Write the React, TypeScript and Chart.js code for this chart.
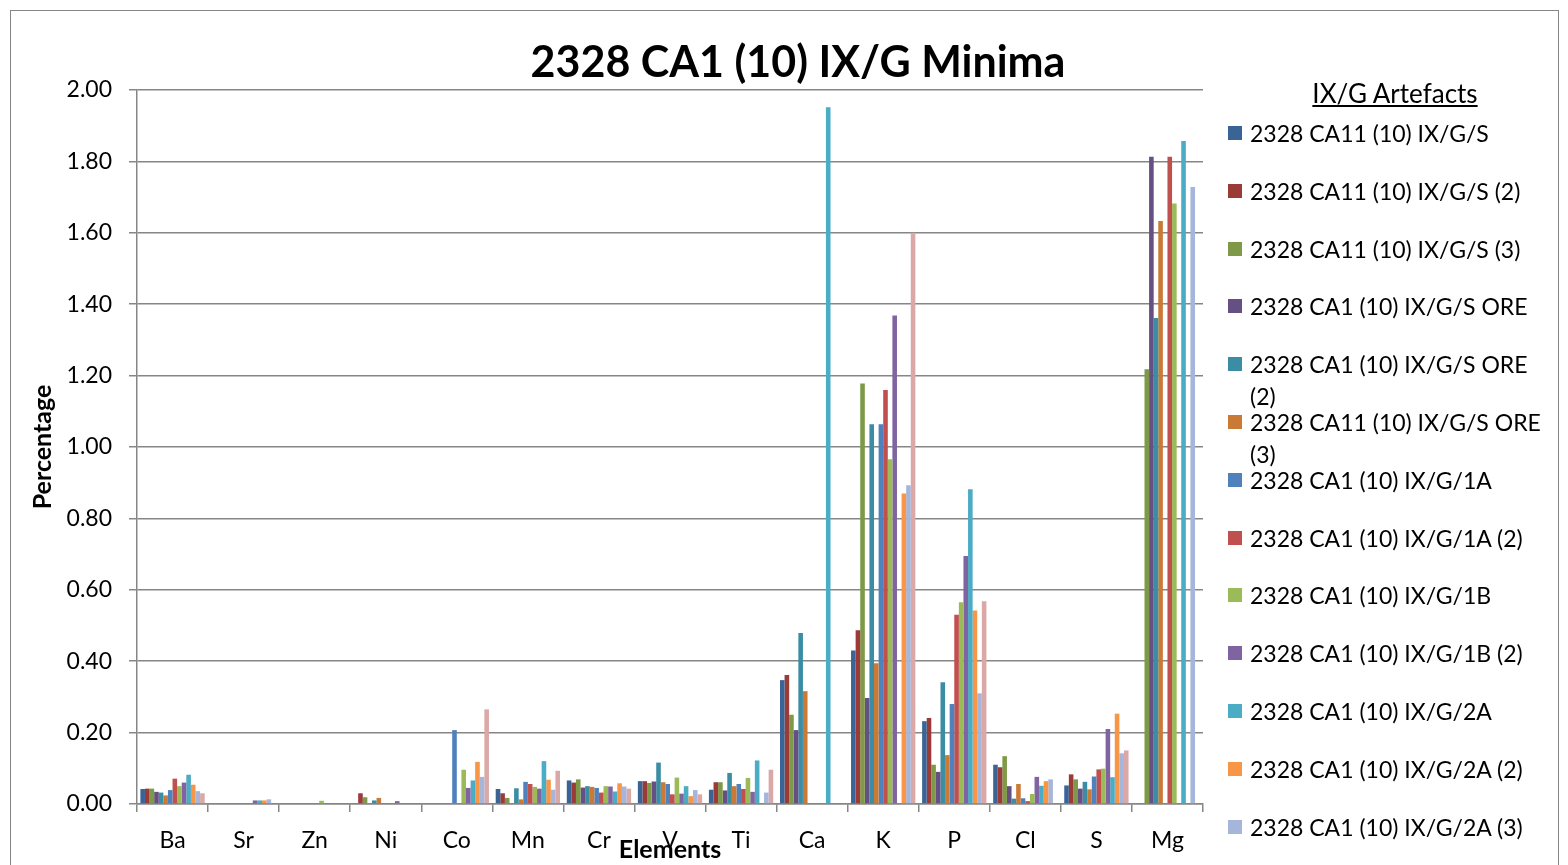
import React, { useEffect, useRef } from "react";
import { Chart, registerables } from "chart.js";

Chart.register(...registerables);

const categories = ["Ba", "Sr", "Zn", "Ni", "Co", "Mn", "Cr", "V", "Ti", "Ca", "K", "P", "Cl", "S", "Mg"];

const seriesNames = [
  "2328 CA11 (10) IX/G/S",
  "2328 CA11 (10) IX/G/S (2)",
  "2328 CA11 (10) IX/G/S (3)",
  "2328 CA1 (10) IX/G/S ORE",
  "2328 CA1 (10) IX/G/S ORE (2)",
  "2328 CA11 (10) IX/G/S ORE (3)",
  "2328 CA1 (10) IX/G/1A",
  "2328 CA1 (10) IX/G/1A (2)",
  "2328 CA1 (10) IX/G/1B",
  "2328 CA1 (10) IX/G/1B (2)",
  "2328 CA1 (10) IX/G/2A",
  "2328 CA1 (10) IX/G/2A (2)",
  "2328 CA1 (10) IX/G/2A (3)",
  "2328 CA1 (10) IX/G/2B",
];

const seriesColors = [
  "#3B6496", "#9A3B38", "#7E9A49", "#654F83", "#3A8DA3", "#CB7A36",
  "#4F81BD", "#C0504D", "#9BBB59", "#8064A2", "#4BACC6", "#F79646",
  "#A5B6DA", "#DBA8A8",
];

//            Ba     Sr     Zn     Ni     Co     Mn     Cr     V      Ti     Ca     K      P      Cl     S      Mg
const s1  = [0.042, 0,     0,     0,     0,     0.042, 0.066, 0.064, 0.040, 0.347, 0.430, 0.232, 0.110, 0.052, 0];
const s2  = [0.043, 0,     0,     0.030, 0,     0.030, 0.060, 0.064, 0.061, 0.361, 0.487, 0.241, 0.103, 0.083, 0];
const s3  = [0.043, 0,     0,     0.019, 0,     0.017, 0.069, 0.059, 0.061, 0.250, 1.178, 0.110, 0.134, 0.069, 1.218];
const s4  = [0.034, 0,     0,     0,     0,     0,     0.046, 0.063, 0.038, 0.207, 0.297, 0.090, 0.050, 0.043, 1.813];
const s5  = [0.032, 0,     0,     0.010, 0,     0.044, 0.050, 0.116, 0.087, 0.479, 1.064, 0.341, 0.015, 0.062, 1.361];
const s6  = [0.024, 0,     0,     0.017, 0,     0.013, 0.048, 0.061, 0.050, 0.316, 0.394, 0.137, 0.056, 0.041, 1.633];
const s7  = [0.039, 0,     0,     0,     0.207, 0.062, 0.045, 0.056, 0.056, 0,     1.064, 0.280, 0.016, 0.077, 0];
const s8  = [0.071, 0,     0,     0,     0,     0.056, 0.032, 0.027, 0.042, 0,     1.160, 0.530, 0.008, 0.097, 1.813];
const s9  = [0.050, 0,     0.009, 0,     0.096, 0.048, 0.050, 0.074, 0.073, 0,     0.966, 0.565, 0.028, 0.099, 1.682];
const s10 = [0.060, 0.010, 0,     0.008, 0.045, 0.043, 0.049, 0.029, 0.034, 0,     1.368, 0.695, 0.076, 0.210, 0];
const s11 = [0.082, 0.010, 0,     0,     0.066, 0.120, 0.035, 0.050, 0.122, 1.952, 0,     0.882, 0.051, 0.075, 1.857];
const s12 = [0.054, 0.010, 0,     0,     0.118, 0.068, 0.058, 0.022, 0,     0,     0.870, 0.542, 0.064, 0.253, 0];
const s13 = [0.036, 0.013, 0,     0,     0.076, 0.040, 0.049, 0.039, 0.032, 0,     0.893, 0.310, 0.069, 0.142, 1.728];
const s14 = [0.030, 0,     0,     0,     0.265, 0.093, 0.043, 0.027, 0.096, 0,     1.600, 0.568, 0,     0.150, 0];

const seriesValues = [s1, s2, s3, s4, s5, s6, s7, s8, s9, s10, s11, s12, s13, s14];

const yMin = 0;
const yMax = 2;
const yStep = 0.2;

const chartTitle = "2328 CA1 (10) IX/G Minima";
const legendTitle = "IX/G Artefacts";
const xTitle = "Elements";
const yTitle = "Percentage";

const FONT = "Lato, sans-serif";
const GRID = "#868686";

const titlePlugin = {
  id: "mainTitle",
  afterDraw(chart: any) {
    const ctx = chart.ctx;
    ctx.save();
    ctx.font = `bold 43px ${FONT}`;
    ctx.fillStyle = "#000";
    ctx.textAlign = "center";
    ctx.textBaseline = "middle";
    ctx.fillText(chartTitle, 787, 52);
    ctx.restore();
  },
};

export default function App() {
  const ref = useRef<HTMLCanvasElement | null>(null);

  useEffect(() => {
    if (!ref.current) return;
    const chart = new Chart(ref.current, {
      type: "bar",
      data: {
        labels: categories,
        datasets: seriesValues.map((vals, i) => ({
          label: seriesNames[i],
          data: vals,
          backgroundColor: seriesColors[i],
          borderWidth: 0,
          categoryPercentage: 0.905,
          barPercentage: 1,
        })),
      },
      options: {
        responsive: false,
        animation: false,
        devicePixelRatio: 1,
        layout: { padding: { left: 17, right: 354, top: 79, bottom: 0 } },
        plugins: {
          legend: { display: false },
          title: { display: false },
          tooltip: { enabled: false },
        },
        scales: {
          x: {
            grid: {
              display: true,
              drawOnChartArea: false,
              drawTicks: true,
              tickLength: 8,
              color: GRID,
              lineWidth: 1.5,
              offset: true,
            },
            border: { display: true, color: GRID, width: 1.5 },
            ticks: {
              font: { family: FONT, size: 23 },
              color: "#000",
              padding: 15,
              maxRotation: 0,
              autoSkip: false,
            },
            title: {
              display: true,
              text: xTitle,
              font: { family: FONT, size: 25, weight: "bold" },
              color: "#000",
              padding: { top: 0, bottom: 0 },
            },
            afterFit: (s: any) => {
              s.height = 61;
            },
          },
          y: {
            min: yMin,
            max: yMax,
            ticks: {
              stepSize: yStep,
              callback: (v: any) => Number(v).toFixed(2),
              font: { family: FONT, size: 23 },
              color: "#000",
              padding: 17,
            },
            grid: { color: GRID, lineWidth: 1.5, tickLength: 8 },
            border: { display: true, color: GRID, width: 1.5 },
            title: {
              display: true,
              text: yTitle,
              font: { family: FONT, size: 25, weight: "bold" },
              color: "#000",
              padding: { top: 0, bottom: 0 },
            },
            afterFit: (s: any) => {
              s.width = 109;
            },
          },
        },
      } as any,
      plugins: [titlePlugin],
    });
    return () => chart.destroy();
  }, []);

  return (
    <div
      style={{
        position: "fixed",
        left: 0,
        top: 0,
        width: 1568,
        height: 865,
        overflow: "hidden",
        background: "#fff",
        fontFamily: FONT,
      }}
    >
      <div
        style={{
          position: "absolute",
          left: 10,
          top: 10,
          width: 1549,
          height: 900,
          border: `1px solid ${GRID}`,
          boxSizing: "border-box",
        }}
      />
      <div style={{ position: "absolute", left: 11, top: 11, width: 1546, height: 854 }}>
        <canvas ref={ref} width={1546} height={854} style={{ width: 1546, height: 854, display: "block" }} />
      </div>
      <div
        style={{
          position: "absolute",
          left: 1245,
          top: 76,
          width: 300,
          textAlign: "center",
          fontSize: 26,
          lineHeight: "34px",
          textDecoration: "underline",
          color: "#000",
        }}
      >
        {legendTitle}
      </div>
      {seriesNames.map((name, i) => (
        <div
          key={name}
          style={{ position: "absolute", left: 1228, top: 133 + i * 57.8 - 16, width: 330 }}
        >
          <div
            style={{
              position: "absolute",
              left: 0,
              top: 9,
              width: 14,
              height: 14,
              background: seriesColors[i],
            }}
          />
          <div
            style={{
              position: "absolute",
              left: 22,
              top: 0,
              width: 292,
              fontSize: 23,
              lineHeight: "32px",
              color: "#000",
            }}
          >
            {name}
          </div>
        </div>
      ))}
    </div>
  );
}
